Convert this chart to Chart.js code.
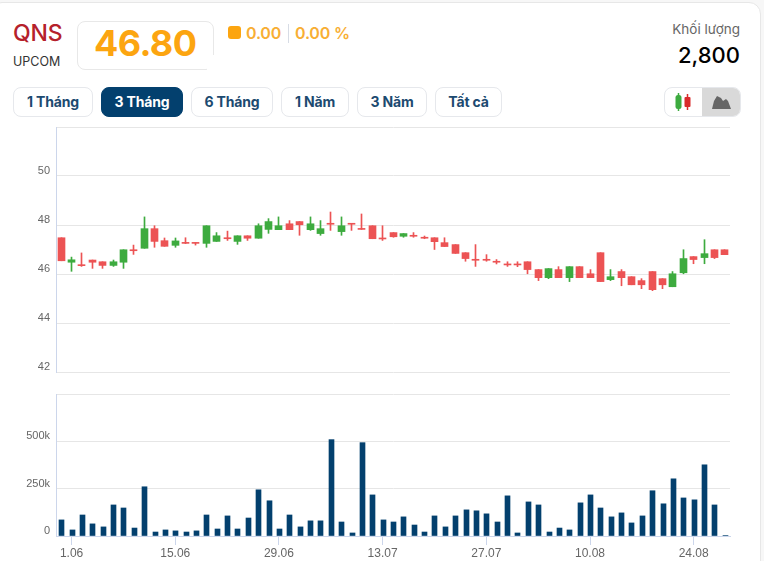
<!DOCTYPE html>
<html lang="vi">
<head>
<meta charset="utf-8">
<title>QNS</title>
<script src="https://cdn.jsdelivr.net/npm/chart.js@4"></script>
<style>
html, body { margin: 0; padding: 0; width: 764px; height: 561px; overflow: hidden; background: #f7f7f7; font-family: Inter, "Noto Sans", sans-serif; }
.card { position: absolute; left: -10px; top: 2px; width: 769px; height: 600px; background: #fff; border: 1px solid #e7e7e7; border-radius: 12px; }
.abs { position: absolute; white-space: nowrap; }
.btn { position: absolute; top: 87px; height: 28px; line-height: 28px; border: 1px solid #e6e8ec; border-radius: 8px; text-align: center; font-size: 14px; font-weight: 700; letter-spacing: -.15px; color: #1c4a70; background: #fff; box-sizing: content-box; }
.btn.on { background: #03406e; border-color: #03406e; color: #fff; }
canvas { position: absolute; }
</style>
</head>
<body>
<div class="card"></div>

<div class="abs" style="left:13px;top:20px;font-size:23px;line-height:27px;font-weight:500;color:#b5212b;letter-spacing:-.2px">QNS</div>
<div class="abs" style="left:13px;top:54px;font-size:12.5px;line-height:15px;color:#333">UPCOM</div>

<div class="abs" style="left:77px;top:21px;width:135px;height:47px;border:1px solid #e8e8e8;border-radius:8px"></div>
<div class="abs" style="left:207px;top:55px;width:8px;height:16px;background:#fff"></div>
<div class="abs" style="left:94px;top:21px;font-size:36px;line-height:45px;font-weight:700;letter-spacing:-.6px;color:#fca510">46.80</div>

<div class="abs" style="left:228px;top:26px;width:13px;height:13px;border-radius:3px;background:#fca510"></div>
<div class="abs" style="left:246px;top:23px;font-size:16px;line-height:20px;font-weight:600;letter-spacing:-.2px;color:#f8ae33">0.00</div>
<div class="abs" style="left:288px;top:24px;width:1px;height:19px;background:#d7dce5"></div>
<div class="abs" style="left:295px;top:23px;font-size:16px;line-height:20px;font-weight:600;letter-spacing:-.2px;color:#f8ae33">0.00 %</div>

<div class="abs" style="right:24px;top:20px;font-size:13.5px;line-height:18px;color:#666">Khối lượng</div>
<div class="abs" style="right:24px;top:41px;font-size:22px;line-height:28px;font-weight:500;color:#000">2,800</div>

<div class="btn" style="left:13px;width:78px">1 Tháng</div>
<div class="btn on" style="left:101px;width:80px">3 Tháng</div>
<div class="btn" style="left:191px;width:80px">6 Tháng</div>
<div class="btn" style="left:281px;width:66px">1 Năm</div>
<div class="btn" style="left:357px;width:68px">3 Năm</div>
<div class="btn" style="left:435px;width:65px">Tất cả</div>

<div class="abs" style="left:664px;top:87px;width:75px;height:28px;border:1px solid #e6e8ec;border-radius:8px;overflow:hidden;background:#fff">
  <div style="position:absolute;left:37px;top:0;width:38px;height:28px;background:#d9d9d9"></div>
  <svg width="75" height="28" style="position:absolute;left:0;top:0">
    <path d="M13.5 5v18" stroke="#3dab3f" stroke-width="1.5"/>
    <rect x="10.5" y="7" width="6" height="14" rx="2.5" fill="#3dab3f"/>
    <path d="M22.5 6v16" stroke="#d92b2b" stroke-width="1.5"/>
    <rect x="19.5" y="9" width="6" height="10" rx="1" fill="#d92b2b"/>
    <path d="M47 21L49 13L52 8L56 10L58 13L61 11L63 13L66 21Z" fill="#666"/>
  </svg>
</div>

<canvas id="priceChart" width="740" height="285" style="left:0;top:107px"></canvas>
<canvas id="volumeChart" width="740" height="187" style="left:0;top:374px"></canvas>

<script>
var dates = ["29.05","1.06","2.06","3.06","4.06","5.06","8.06","9.06","10.06","11.06","12.06","15.06","16.06","17.06","18.06","19.06","22.06","23.06","24.06","25.06","26.06","29.06","30.06","1.07","2.07","3.07","6.07","7.07","8.07","9.07","10.07","13.07","14.07","15.07","16.07","17.07","20.07","21.07","22.07","23.07","24.07","27.07","28.07","29.07","30.07","31.07","3.08","4.08","5.08","6.08","7.08","10.08","11.08","12.08","13.08","14.08","17.08","18.08","19.08","20.08","21.08","24.08","25.08","26.08","27.08"];

var opens = [47.48,46.48,46.37,46.57,46.50,46.35,46.48,46.97,47.05,47.85,47.36,47.17,47.28,47.28,47.25,47.33,47.47,47.33,47.56,47.46,47.82,47.81,48.05,48.14,47.81,47.65,48.05,47.73,48.05,47.85,47.97,47.47,47.69,47.54,47.56,47.48,47.48,47.28,47.20,46.87,46.59,46.59,46.50,46.39,46.39,46.50,46.18,45.85,46.18,45.85,46.30,46.01,46.87,45.77,46.10,45.89,45.73,46.10,45.81,45.48,46.05,46.71,46.67,46.99,46.99];
var closes = [46.54,46.58,46.34,46.48,46.35,46.50,46.99,46.95,47.85,47.33,47.13,47.35,47.25,47.25,47.97,47.56,47.44,47.56,47.46,47.97,48.14,47.97,47.81,48.01,48.05,47.85,48.03,47.97,48.03,47.82,47.44,47.43,47.52,47.65,47.54,47.46,47.32,47.12,46.84,46.63,46.56,46.56,46.48,46.37,46.37,46.18,45.85,46.22,45.85,46.30,45.85,45.85,45.69,45.89,45.85,45.56,45.56,45.36,45.56,46.01,46.63,46.59,46.83,46.67,46.79];
var highs = [47.48,46.69,46.86,46.57,46.50,46.57,46.99,47.18,48.33,47.97,47.47,47.47,47.48,47.28,47.97,47.69,47.75,47.56,47.56,48.05,48.26,48.33,48.18,48.14,48.33,48.18,48.53,48.33,48.05,48.45,47.97,47.97,47.69,47.65,47.69,47.55,47.48,47.48,47.20,46.87,47.20,46.79,46.59,46.50,46.50,46.50,46.18,46.22,46.30,46.30,46.30,46.18,46.87,46.18,46.18,45.89,45.81,46.10,45.81,46.10,46.99,46.71,47.40,46.99,46.99];
var lows = [46.54,46.11,46.31,46.23,46.23,46.31,46.23,46.80,47.05,47.09,47.13,47.09,47.24,47.18,47.09,47.33,47.37,47.21,47.37,47.46,47.66,47.81,47.81,47.58,47.78,47.58,47.78,47.58,47.78,47.82,47.44,47.37,47.50,47.50,47.50,47.44,47.00,47.12,46.84,46.52,46.31,46.52,46.41,46.31,46.30,46.01,45.73,45.81,45.85,45.69,45.85,45.85,45.69,45.73,45.52,45.56,45.40,45.32,45.40,45.48,46.01,46.42,46.42,46.63,46.79];
var volumes = [85000,32000,111000,64000,48000,164000,148000,42000,260000,21000,32000,27000,21000,27000,111000,37000,106000,37000,95000,244000,186000,37000,111000,48000,80000,80000,509000,74000,16000,493000,217000,85000,74000,101000,58000,21000,106000,48000,106000,138000,133000,117000,74000,212000,16000,180000,164000,21000,42000,32000,175000,217000,148000,101000,122000,69000,106000,239000,170000,302000,201000,191000,376000,164000,2800];

// labels only every 10 sessions, starting at 1.06
var labelEvery = 10;
var priceTicks = [42, 44, 46, 48, 50];
var volumeTicks = [0, 250000, 500000];

var green = "#3dab3f";
var red = "#ec5354";
var gridColor = "#e6e6e6";
var axisColor = "#ccd6eb";
var tickFont = { family: "'Liberation Sans', Arial, sans-serif", size: 11 };
var dateFont = { family: "'Liberation Sans', Arial, sans-serif", size: 12 };

var bodies = dates.map((d, i) => [opens[i], closes[i]]);
var wicks = dates.map((d, i) => [lows[i], highs[i]]);
var candleColors = dates.map((d, i) => closes[i] >= opens[i] ? green : red);

const isLabelled = (i) => i % labelEvery == 1;

// put the bars on whole pixels, the original has crisp edges
const snapBars = (fn) => ({
    id: "snapBars",
    beforeDatasetsDraw(chart) {
        chart.data.datasets.forEach((ds, i) => {
            chart.getDatasetMeta(i).data.forEach((el) => {
                el.x = fn(el.x) + 0.5;
            });
        });
    }
});

new Chart("priceChart", {
    type: "bar",
    plugins: [snapBars(Math.floor)],
    data: {
        labels: dates,
        datasets: [
            { data: bodies, backgroundColor: candleColors, barThickness: 7, minBarLength: 1, grouped: false },
            { data: wicks, backgroundColor: candleColors, barThickness: 1, grouped: false }
        ]
    },
    options: {
        responsive: false,
        animation: false,
        layout: { padding: { top: 20, bottom: 20, left: 0, right: 10 } },
        plugins: { legend: { display: false }, tooltip: { enabled: false } },
        scales: {
            x: { display: false },
            y: {
                min: 42,
                max: 52,
                afterFit: (scale) => { scale.width = 56; },
                border: { color: axisColor },
                grid: { color: gridColor, drawTicks: false },
                ticks: {
                    stepSize: 2,
                    padding: 6,
                    labelOffset: -5,
                    color: "#666",
                    font: tickFont,
                    callback: (v) => priceTicks.includes(v) ? v : ""
                }
            }
        }
    }
});

new Chart("volumeChart", {
    type: "bar",
    plugins: [snapBars(Math.round)],
    data: {
        labels: dates,
        datasets: [{ data: volumes, backgroundColor: "#03406e", barThickness: 5 }]
    },
    options: {
        responsive: false,
        animation: false,
        layout: { padding: { top: 20, bottom: 0, left: 0, right: 10 } },
        plugins: { legend: { display: false }, tooltip: { enabled: false } },
        scales: {
            x: {
                afterFit: (scale) => { scale.height = 25; },
                border: { color: axisColor, z: 1 },
                grid: {
                    offset: false,
                    color: "transparent",
                    tickLength: 9,
                    tickColor: (ctx) => isLabelled(ctx.index) ? axisColor : "transparent"
                },
                ticks: {
                    autoSkip: false,
                    maxRotation: 0,
                    padding: 1,
                    color: "#666",
                    font: dateFont,
                    callback: (v, i) => isLabelled(i) ? dates[i] : ""
                }
            },
            y: {
                min: 0,
                max: 750000,
                afterFit: (scale) => { scale.width = 56; },
                border: { color: axisColor },
                grid: { color: gridColor, drawTicks: false },
                ticks: {
                    stepSize: 250000,
                    padding: 6,
                    labelOffset: -5,
                    color: "#666",
                    font: tickFont,
                    callback: (v) => volumeTicks.includes(v) ? (v == 0 ? "0" : v / 1000 + "k") : ""
                }
            }
        }
    }
});
</script>
</body>
</html>
